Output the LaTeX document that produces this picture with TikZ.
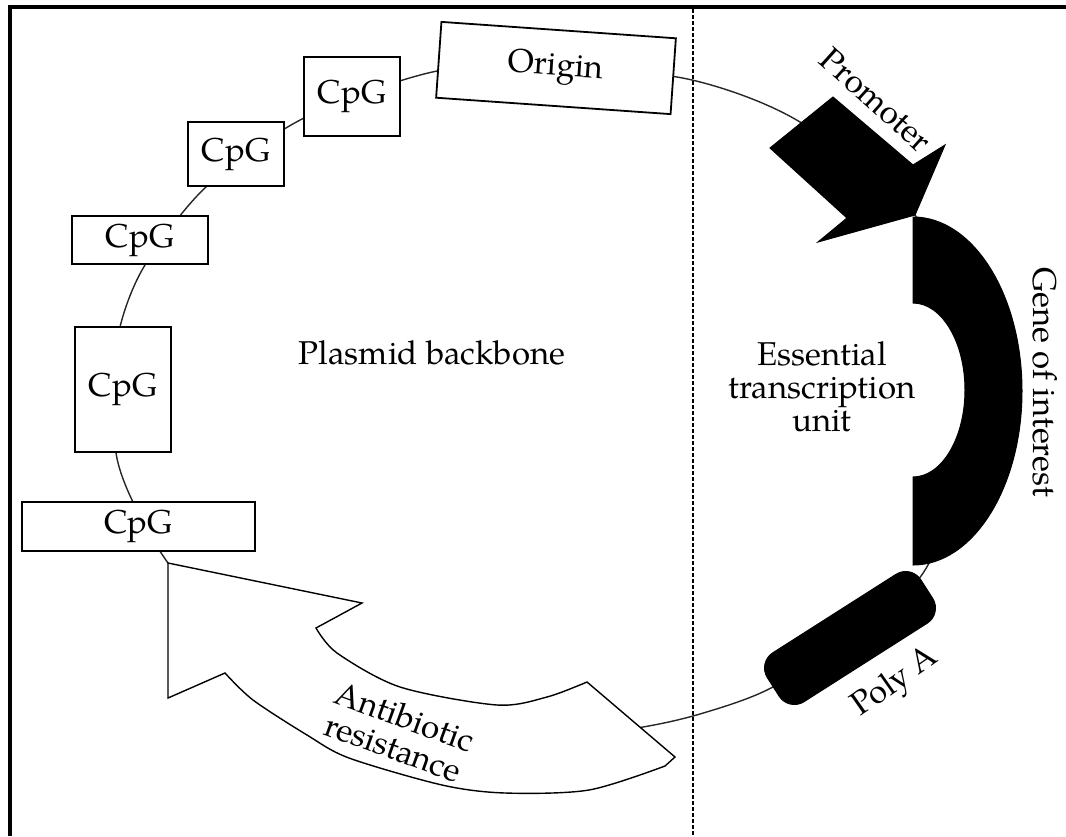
\documentclass[tikz,border=0pt]{standalone}
\usepackage{fontspec}
\setmainfont{TeX Gyre Pagella}

\tikzset{
  backbone/.style={draw=black!85, line width=0.7pt},
  cpgbox/.style={draw, fill=white, line width=0.9pt},
  blackpart/.style={fill=black, draw=black, line width=0.5pt},
  lbl/.style={font=\fontsize{16.5}{16.5}\selectfont, inner sep=0pt, align=center},
}

\begin{document}
\begin{tikzpicture}[x=0.5pt, y=-0.5pt]
    \useasboundingbox (0,0) rectangle (1066,836);
    \draw[line width=2.25pt] (10,836) -- (10,7) -- (1066,7);
    \draw[line width=0.7pt, dash pattern=on 2pt off 1pt] (693,9) -- (693,836);

    \draw[backbone] plot[smooth cycle] coordinates {(437,71) (560,66) (692,80) (800,122) (915,215) (990,390) (928,565) (850,640) (767,690) (700,714) (643,727) (560,738) (420,738) (260,680) (168,563) (132,500) (116,453) (115,390) (120,327) (145,265) (206,187) (304,118)};

    \node[cpgbox, lbl, minimum width=48pt, minimum height=39.5pt] (cpg1) at (352,96.5) {CpG};
    \node[cpgbox, lbl, minimum width=48pt, minimum height=32pt] (cpg2) at (236,154) {CpG};
    \node[cpgbox, lbl, minimum width=68pt, minimum height=24pt] (cpg3) at (140,240) {CpG};
    \node[cpgbox, lbl, minimum width=48pt, minimum height=62.5pt] (cpg4) at (123,389.5) {CpG};
    \node[cpgbox, lbl, minimum width=116.5pt, minimum height=24.5pt] (cpg5) at (138.5,526.5) {CpG};
    \node[cpgbox, lbl, minimum width=117.5pt, minimum height=38pt, rotate=-4] (ori) at (556,68) {Origin};

    \draw[fill=white, line width=0.7pt] (168,563) -- (362,603) -- (316,628)
        -- plot[smooth] coordinates {(316,628) (337,653) (400,687) (497,705) (547,697) (587,682)}
        -- (675,757)
        -- plot[smooth] coordinates {(665,766) (589,790) (505,793) (442,785) (349,758) (307,735) (253,700) (225,673)}
        -- (168,698) -- cycle;

    \fill[blackpart] (770,148) -- (833,97) -- (913,165) -- (945,145) -- (915,215) -- (818,242) -- (847,218) -- cycle;
    \fill[blackpart] (913,217) arc[start angle=-90, end angle=90, x radius=109, y radius=174]
        -- (913,477) arc[start angle=90, end angle=-90, x radius=52, y radius=87] -- cycle;
    \node[blackpart, rounded corners=9pt, minimum width=91pt, minimum height=29pt, rotate=32.5] (polya) at (850,638) {};

    \node[lbl] (lblbackbone) at (432,353) {Plasmid backbone};
    \node[lbl] (lblunit) at (822,387) {Essential\\transcription\\unit};
    \node[lbl, rotate=-42] (lblpromoter) at (876,100) {Promoter};
    \node[lbl, rotate=-90] (lblgene) at (1045,382) {Gene of interest};
    \node[lbl, rotate=35] (lblpolya) at (896,683) {Poly A};
    \node[lbl, rotate=-20] (lblresist) at (399,732) {Antibiotic\\resistance};
\end{tikzpicture}
\end{document}
